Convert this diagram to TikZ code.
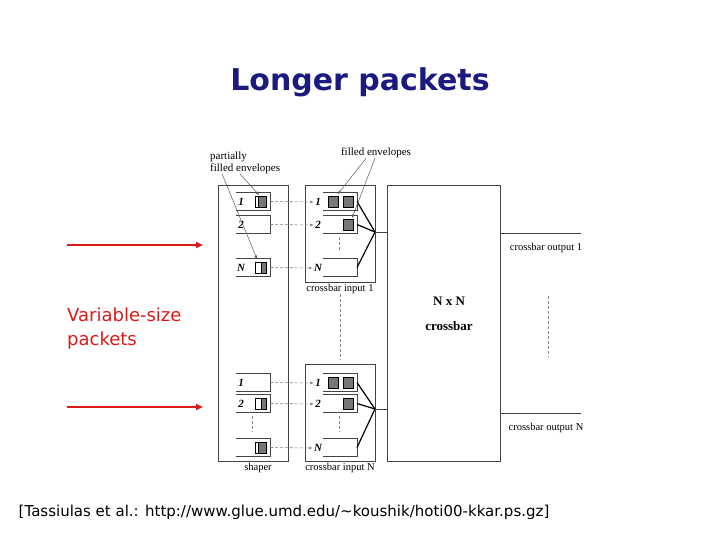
\documentclass[tikz,border=0pt]{standalone}
\usepackage{fontspec}
\setmainfont{Liberation Serif}
\newfontfamily\slidefont{DejaVu Sans}
\usetikzlibrary{arrows.meta}
\definecolor{titleblue}{HTML}{1A1A80}
\definecolor{arrowred}{HTML}{DD1A1A}
\definecolor{boxgray}{HTML}{444444}
\definecolor{envgray}{HTML}{777777}
% open-left queue: left x, top y, height
\newcommand{\qbox}[3]{\draw[queue] (#1,#2) -- ++(34,0) -- ++(0,#3) -- ++(-34,0);}
% partially filled envelope: split x, queue top y
\newcommand{\penv}[2]{\draw[env,fill=white] (255,#2+4) rectangle (266,#2+15);
  \draw[env] (#1,#2+4) rectangle (266,#2+15);}
% filled envelope: left x, queue top y
\newcommand{\fenv}[2]{\draw[env] (#1,#2+4.5) rectangle ++(10,11);}

\begin{document}
\begin{tikzpicture}[x=1pt, y=-1pt,
  box/.style={draw=boxgray, line width=1pt, inner sep=0pt},
  queue/.style={draw=boxgray, line width=0.9pt},
  fan/.style={draw=black, line width=1.2pt},
  feed/.style={draw=gray, line width=0.6pt, dash pattern=on 3pt off 2pt,
    -{Stealth[length=4pt,width=3pt]}},
  pointer/.style={draw=gray!70!black, line width=0.5pt, -{Stealth[length=4pt,width=3pt]}},
  vdots/.style={draw=gray, line width=0.6pt, dash pattern=on 3pt off 2pt},
  lab/.style={font=\fontsize{10.5}{12}\selectfont, inner sep=0pt},
  qlab/.style={font=\fontsize{11}{12}\selectfont\bfseries\itshape, inner sep=1.5pt},
  env/.style={draw=black, fill=envgray, line width=0.6pt},
  bigred/.style={draw=arrowred, line width=2.5pt, -{Triangle[length=7pt,width=6pt]}}]
  \useasboundingbox (0,0) rectangle (720,540);
  % title
  \node[font=\slidefont\bfseries\fontsize{30}{36}\selectfont, text=titleblue]
    (title) at (360,82) {Longer packets};
  % main boxes
  \node[box, minimum width=70pt, minimum height=276pt, anchor=north west]
    (shaper) at (218,185) {};
  \node[box, minimum width=70pt, minimum height=97pt, anchor=north west]
    (cin1) at (305,185) {};
  \node[box, minimum width=70pt, minimum height=97pt, anchor=north west]
    (cinN) at (305,364) {};
  \node[box, minimum width=113pt, minimum height=276pt, anchor=north west]
    (xbar) at (387,185) {};
  \node[font=\bfseries\fontsize{13}{25}\selectfont, align=center]
    (xbarlab) at (449,314) {N x N\\crossbar};
  % queues of both sections
  \foreach \s/\ya/\yb/\yc in {a/192/215/258, b/373/394/438} {
    \qbox{236}{\ya}{18.5}
    \qbox{236}{\yb}{18.5}
    \qbox{236}{\yc}{18.5}
    \qbox{323}{\ya}{18.5}
    \qbox{323}{\yb}{18.5}
    \qbox{323}{\yc}{18.5}
    \coordinate (\s-s1) at (270,\ya+9.5);
    \coordinate (\s-s2) at (270,\yb+9.5);
    \coordinate (\s-s3) at (270,\yc+9.5);
    \node[qlab] (\s-l1) at (318,\ya+10) {1};
    \node[qlab] (\s-l2) at (318,\yb+10) {2};
    \node[qlab] (\s-l3) at (318,\yc+10) {N};
    \coordinate (\s-q1) at (357,\ya+9.5);
    \coordinate (\s-q2) at (357,\yb+9.5);
    \coordinate (\s-q3) at (357,\yc+9.5);
    \fenv{328}{\ya} \fenv{343}{\ya} \fenv{343}{\yb}
    \draw[vdots] (339,\yb+22) -- (339,\yc-6);
    \foreach \k in {1,2,3}
      \draw[feed] (\s-s\k) -- (\s-l\k.west);
  }
  % shaper labels
  \node[qlab] (a-t1) at (241,202) {1};
  \node[qlab] (a-t2) at (241,225) {2};
  \node[qlab] (a-t3) at (241,268) {N};
  \node[qlab] (b-t1) at (241,383) {1};
  \node[qlab] (b-t2) at (241,404) {2};
  \draw[vdots] (252,416) -- (252,432);
  % partially filled envelopes
  \penv{258.5}{192} \penv{261}{258}
  \penv{261}{394} \penv{258.5}{438}
  % fan into the crossbar
  \coordinate (a-hub) at (375,232);
  \coordinate (b-hub) at (375,409);
  \foreach \s in {a,b} {
    \foreach \k in {1,2,3}
      \draw[fan] (\s-q\k) -- (\s-hub);
    \draw[queue] (\s-hub) -- (\s-hub -| xbar.west);
  }
  % outputs
  \coordinate (out1) at (581,233);
  \coordinate (outN) at (581,413);
  \draw[queue] (xbar.east |- out1) -- (out1);
  \draw[queue] (xbar.east |- outN) -- (outN);
  \node[lab] (out1lab) at (546,248) {crossbar output 1};
  \node[lab] (outNlab) at (546,428) {crossbar output N};
  \draw[vdots] (548,296) -- (548,357);
  \draw[vdots] (340,294) -- (340,360);
  % box captions
  \node[lab] (cin1lab) at (340,289) {crossbar input 1};
  \node[lab] (cinNlab) at (340,468) {crossbar input N};
  \node[lab] (shaperlab) at (258,468) {shaper};
  % envelope callouts
  \node[lab, font=\fontsize{11}{12}\selectfont, align=left, anchor=west]
    (pfe) at (210,163) {partially\\filled envelopes};
  \node[lab, font=\fontsize{11}{12}\selectfont] (fe) at (376,153) {filled envelopes};
  \draw[pointer] ([xshift=-5pt]pfe.south) -- (259,195);
  \draw[pointer] ([xshift=-23pt]pfe.south) -- (257,259);
  \draw[pointer] ([xshift=-10pt]fe.south) -- (338,194);
  \draw[pointer] ([xshift=-1pt]fe.south) -- (352,218);
  % incoming packets
  \coordinate (r1a) at (67,245);
  \coordinate (r1b) at (203,245);
  \coordinate (r2a) at (67,407);
  \coordinate (r2b) at (203,407);
  \draw[bigred] (r1a) -- (r1b);
  \draw[bigred] (r2a) -- (r2b);
  \node[font=\slidefont\fontsize{18}{24}\selectfont, text=arrowred, align=left,
    anchor=west, inner sep=0pt] (varlab) at (67,329) {Variable-size\\packets};
  % reference
  \node[font=\slidefont\fontsize{15}{18}\selectfont, inner sep=0pt] (cite) at (284,512)
    {[Tassiulas et al.: http://www.glue.umd.edu/\textasciitilde koushik/hoti00-kkar.ps.gz]};
\end{tikzpicture}
\end{document}
